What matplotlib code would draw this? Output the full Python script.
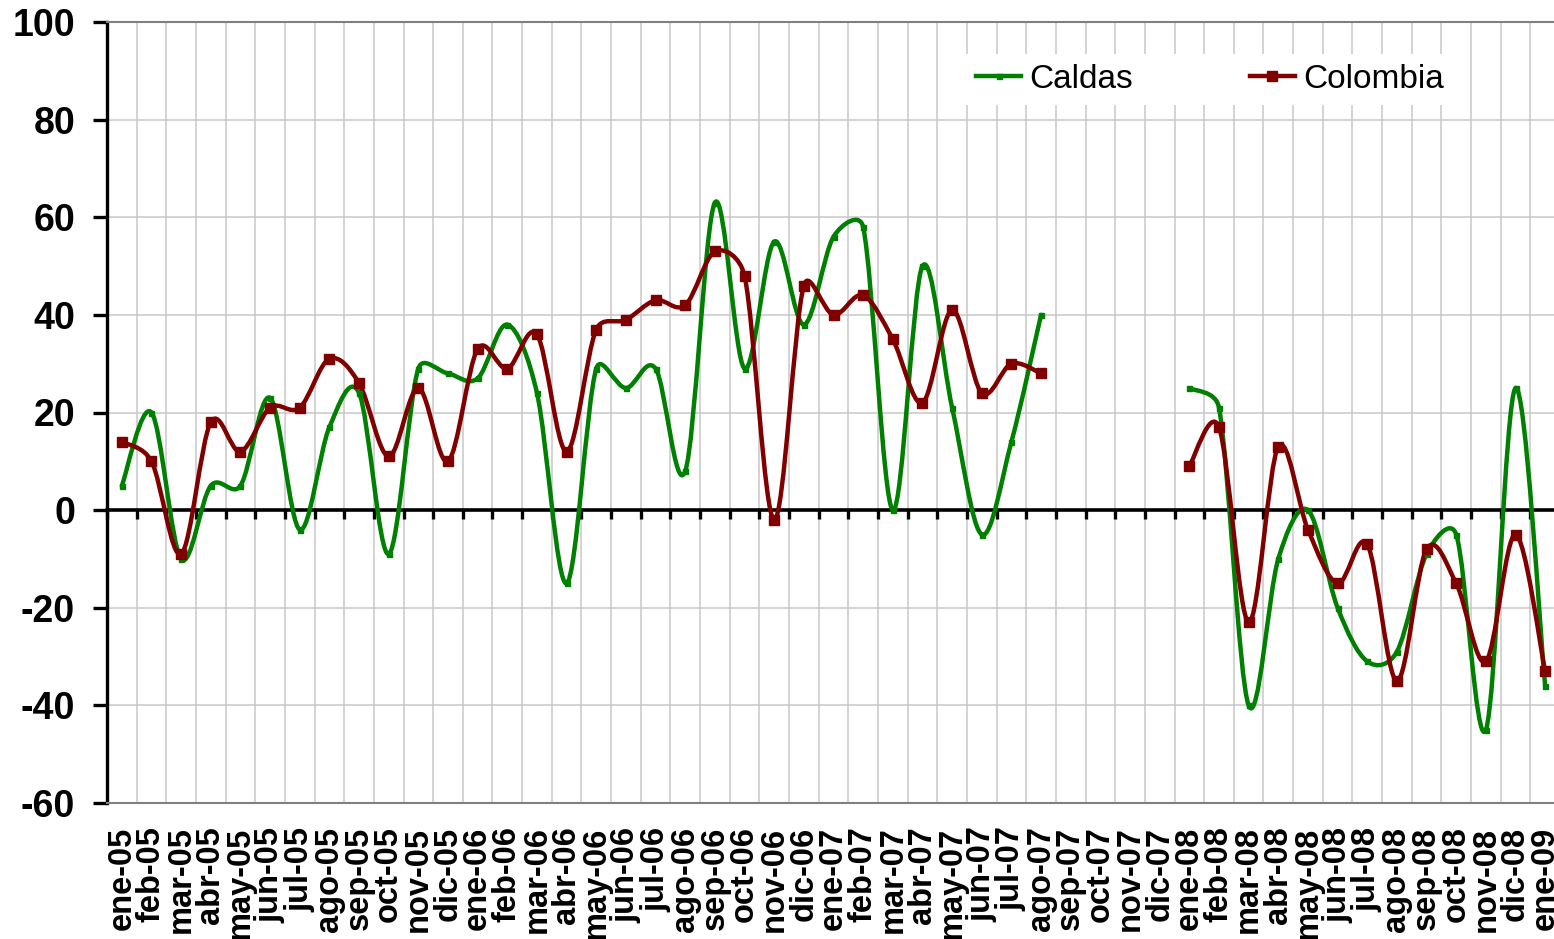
import numpy as np
import matplotlib
matplotlib.use('Agg')
import matplotlib.pyplot as plt
from matplotlib.path import Path
from matplotlib.patches import PathPatch
from matplotlib.lines import Line2D

plt.rcParams['font.family'] = ['Liberation Sans', 'DejaVu Sans']
plt.rcParams['axes.unicode_minus'] = False

nan = np.nan

# month labels (category axis)
labels = ['ene-05', 'feb-05', 'mar-05', 'abr-05', 'may-05', 'jun-05', 'jul-05', 'ago-05',
          'sep-05', 'oct-05', 'nov-05', 'dic-05',
          'ene-06', 'feb-06', 'mar-06', 'abr-06', 'may-06', 'jun-06', 'jul-06', 'ago-06',
          'sep-06', 'oct-06', 'nov-06', 'dic-06',
          'ene-07', 'feb-07', 'mar-07', 'abr-07', 'may-07', 'jun-07', 'jul-07', 'ago-07',
          'sep-07', 'oct-07', 'nov-07', 'dic-07',
          'ene-08', 'feb-08', 'mar-08', 'abr-08', 'may-08', 'jun-08', 'jul-08', 'ago-08',
          'sep-08', 'oct-08', 'nov-08', 'dic-08',
          'ene-09']

caldas = [5, 20, -10, 5, 5, 23, -4, 17, 24, -9, 29, 28,
          27, 38, 24, -15, 29, 25, 29, 8, 63, 29, 55, 38,
          56, 58, 0, 50, 21, -5, 14, 40, nan, nan, nan, nan,
          25, 21, -40, -10, 0, -20, -31, -29, -9, -5, -45, 25,
          -36]

colombia = [14, 10, -9, 18, 12, 21, 21, 31, 26, 11, 25, 10,
            33, 29, 36, 12, 37, 39, 43, 42, 53, 48, -2, 46,
            40, 44, 35, 22, 41, 24, 30, 28, nan, nan, nan, nan,
            9, 17, -23, 13, -4, -15, -7, -35, -8, -15, -31, -5,
            -33]

green = '#008000'
maroon = '#800000'

W, H = 1554, 939
AX_LEFT, AX_RIGHT, AX_TOP, AX_BOTTOM = 107, 1560, 22, 803
YMIN, YMAX = -60, 100
PX_X = (AX_RIGHT - AX_LEFT) / len(labels)      # pixels per category
PX_Y = (AX_BOTTOM - AX_TOP) / (YMAX - YMIN)    # pixels per unit


def smooth_path(x, y):
    # excel-like smoothed line: bezier with control arms limited
    # to half the segment length (worked out in screen pixels)
    px = np.asarray(x, float) * PX_X
    py = np.asarray(y, float) * PX_Y
    pts = np.column_stack([px, py])
    n = len(pts)
    verts = [(x[0], y[0])]
    codes = [Path.MOVETO]
    for i in range(n - 1):
        p0 = pts[i - 1] if i > 0 else pts[i]
        p1 = pts[i]
        p2 = pts[i + 1]
        p3 = pts[i + 2] if i + 2 < n else pts[i + 1]
        d12 = np.hypot(*(p2 - p1))
        d02 = np.hypot(*(p2 - p0))
        d13 = np.hypot(*(p3 - p1))
        f0 = 1 / 6 if d02 / 6 < d12 / 2 else d12 / (2 * d02)
        f1 = 1 / 6 if d13 / 6 < d12 / 2 else d12 / (2 * d13)
        c1 = p1 + (p2 - p0) * f0
        c2 = p2 - (p3 - p1) * f1
        for c in (c1, c2, p2):
            verts.append((c[0] / PX_X, c[1] / PX_Y))
        codes += [Path.CURVE4] * 3
    return Path(verts, codes)


def draw_series(ax, values, color, lw):
    vals = np.array(values, dtype=float)
    xs = np.arange(len(vals))
    ok = ~np.isnan(vals)
    # split into runs without gaps
    start = None
    for i in range(len(vals) + 1):
        good = i < len(vals) and ok[i]
        if good and start is None:
            start = i
        elif not good and start is not None:
            patch = PathPatch(smooth_path(xs[start:i], vals[start:i]),
                              facecolor='none', edgecolor=color, lw=lw,
                              capstyle='round', joinstyle='round', zorder=3)
            ax.add_patch(patch)
            start = None


fig = plt.figure(figsize=(W / 100, H / 100), dpi=100)
ax = fig.add_axes([AX_LEFT / W, 1 - AX_BOTTOM / H,
                   (AX_RIGHT - AX_LEFT) / W, (AX_BOTTOM - AX_TOP) / H])

x = np.arange(len(labels))
draw_series(ax, caldas, green, 3.2)
draw_series(ax, colombia, maroon, 3.2)
ax.plot(x, caldas, ls='none', marker='s', ms=3.6, color=green, zorder=4)
ax.plot(x, colombia, ls='none', marker='s', ms=6.5, color=maroon, zorder=4)

ax.set_xlim(-0.5, len(labels) - 0.5)
ax.set_ylim(YMIN, YMAX)
ax.set_yticks(np.arange(YMIN, YMAX + 1, 20))

# gridlines between categories, labels at category centres
ax.set_xticks(np.arange(-0.5, len(labels), 1))
ax.set_xticklabels([])
ax.set_xticks(x, minor=True)
ax.set_xticklabels(labels, minor=True, rotation=90, fontsize=23.5,
                   fontweight='bold', va='top', ha='center')
ax.tick_params(axis='x', which='both', length=0)
ax.tick_params(axis='x', which='minor', pad=17)
ax.tick_params(axis='y', direction='out', length=10, width=2.4, color='black',
               labelsize=27, pad=13)
for t in ax.get_yticklabels():
    t.set_fontweight('bold')

ax.grid(True, which='major', color='#c8c8c8', lw=1.1)
ax.set_axisbelow(True)

ax.spines['left'].set_color('black')
ax.spines['left'].set_linewidth(2.4)
for s in ['top', 'bottom', 'right']:
    ax.spines[s].set_color('#808080')
    ax.spines[s].set_linewidth(1.5)

# zero line with its own tick marks
zero_pos = (0 - YMIN) / (YMAX - YMIN)
sec = ax.secondary_xaxis(zero_pos)
sec.spines['top'].set_visible(False)
sec.spines['bottom'].set_color('black')
sec.spines['bottom'].set_linewidth(2.6)
sec.set_xticks(np.arange(-0.5, len(labels), 1))
sec.set_xticklabels([])
sec.tick_params(axis='x', direction='out', length=6.5, width=2.4, color='black')
sec.set_zorder(2)

handles = [Line2D([], [], color=green, lw=3.2, marker='s', ms=3.6),
           Line2D([], [], color=maroon, lw=3.2, marker='s', ms=6.5)]
leg = ax.legend(handles, ['Caldas', 'Colombia'], ncol=2, loc='upper left',
                bbox_to_anchor=(966 / W, 1 - 54 / H), bbox_transform=fig.transFigure,
                fontsize=24, frameon=True, fancybox=False, framealpha=1,
                facecolor='white', edgecolor='none', handlelength=1.35,
                handletextpad=0.25, columnspacing=3.5, borderpad=0.3,
                borderaxespad=0)

fig.savefig('out.png', dpi=100)
